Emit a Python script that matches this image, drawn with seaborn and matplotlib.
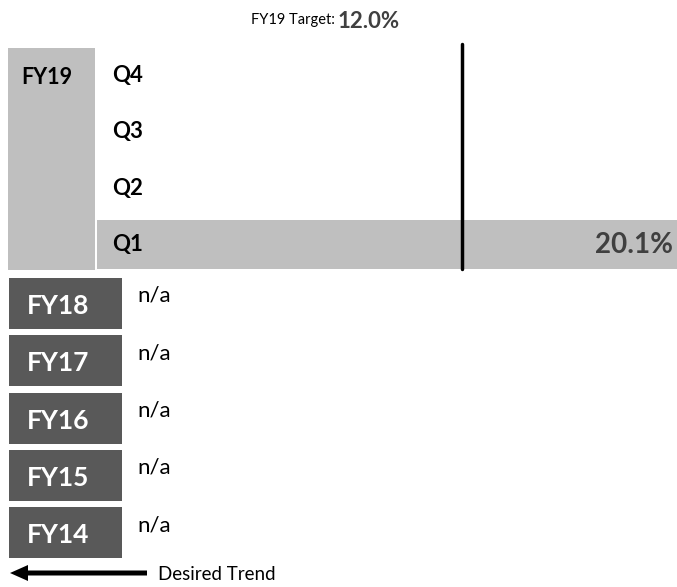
import numpy as np
import pandas as pd
import matplotlib
matplotlib.use("Agg")
import matplotlib.pyplot as plt
import matplotlib.transforms as mtransforms
from matplotlib.patches import Rectangle, FancyArrow
import seaborn as sns

# ---- data ----
quarters = ["Q4", "Q3", "Q2", "Q1"]
q_values = [np.nan, np.nan, np.nan, 20.1]
current_year = "FY19"
target_value = 12.0
prior_years = ["FY18", "FY17", "FY16", "FY15", "FY14"]
prior_values = ["n/a", "n/a", "n/a", "n/a", "n/a"]

sns.set_theme(style="white")
plt.rcParams["font.family"] = ["Lato", "DejaVu Sans"]

W, H = 677, 587
fig = plt.figure(figsize=(W / 100, H / 100), dpi=100)

# overlay axes in pixel coordinates
ov = fig.add_axes([0, 0, 1, 1])
ov.set_xlim(0, W)
ov.set_ylim(H, 0)
ov.axis("off")

LIGHT = "#bfbfbf"
DARK = "#595959"
TXT = "#404040"

# FY19 block
ov.add_patch(Rectangle((8, 48), 87, 222, color=LIGHT, lw=0))
ov.text(47, 77, current_year, ha="center", va="center", fontsize=15.5,
        fontweight="bold", color="black")

# bar axes
def px_axes(x0, y0, x1, y1):
    return fig.add_axes([x0 / W, 1 - y1 / H, (x1 - x0) / W, (y1 - y0) / H])

ax = px_axes(97, 47, 677, 273)
df = pd.DataFrame({"quarter": quarters, "value": q_values})
sns.barplot(data=df, y="quarter", x="value", order=quarters, orient="h",
            color=LIGHT, saturation=1, width=0.87, ax=ax, errorbar=None)
xmin = -1.75
xmax = 20.1
ax.set_xlim(xmin, xmax)
ax.set_ylim(3.5, -0.5)
for p in ax.patches:
    w = p.get_width()
    if np.isfinite(w) and w > 0:
        p.set_x(xmin)
        p.set_width(w - xmin)
        p.set_edgecolor("none")
ax.axis("off")

# quarter labels
tr = mtransforms.blended_transform_factory(ax.transAxes, ax.transData)
for i, q in enumerate(quarters):
    ax.text(0.026, i, q, transform=tr, ha="left", va="center", fontsize=16,
            fontweight="bold", color="black")
    v = q_values[i]
    if np.isfinite(v):
        ax.annotate(f"{v:.1f}%", xy=(v, i), xytext=(-3, 0),
                    textcoords="offset points", ha="right", va="center",
                    fontsize=20, fontweight="bold", color=TXT)

# target line
ax.axvline(target_value, ymin=(273 - 269) / 226, ymax=(273 - 44) / 226,
           color="black", lw=2.5, clip_on=False)

# target text
ov.text(335, 20, "FY19 Target:", ha="right", va="center", fontsize=10.5,
        color="black")
ov.text(338, 21, f"{target_value:.1f}%", ha="left", va="center", fontsize=16,
        fontweight="bold", color=TXT)

# prior years
top0 = 278
step = 57.3
for i, (yr, val) in enumerate(zip(prior_years, prior_values)):
    y0 = top0 + i * step
    ov.add_patch(Rectangle((9, y0), 113, 51, color=DARK, lw=0))
    ov.text(58, y0 + 28, yr, ha="center", va="center", fontsize=19,
            fontweight="bold", color="white")
    ov.text(137, y0 + 18, val, ha="left", va="center", fontsize=16,
            color="black")

# desired trend arrow
ov.add_patch(FancyArrow(147, 573, -137, 0, width=5, head_width=16,
                        head_length=18, length_includes_head=True,
                        color="black", lw=0))
ov.text(158, 574, "Desired Trend", ha="left", va="center", fontsize=13.5,
        color="black")

fig.savefig("out.png", dpi=100)
